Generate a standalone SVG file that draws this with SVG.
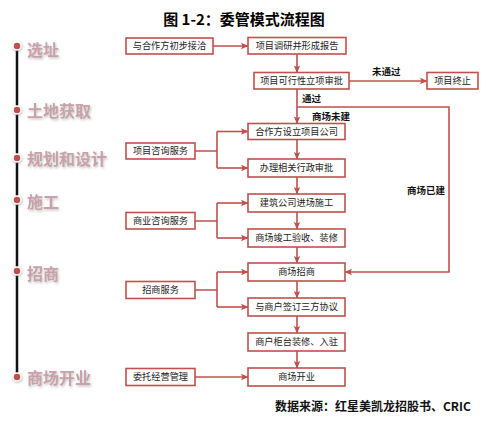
<svg xmlns="http://www.w3.org/2000/svg" width="492" height="425" viewBox="0 0 492 425">
<style>
.box{fill:#fff;stroke:#c0504d;stroke-width:1.6}
.bt{font-family:"Noto Sans CJK SC","Liberation Sans",sans-serif;font-size:9.2px;fill:#222;text-anchor:middle}
.lbl{font-family:"Noto Sans CJK SC","Liberation Sans",sans-serif;font-size:9.5px;font-weight:bold;fill:#111}
.tl{font-family:"Noto Sans CJK SC","Liberation Sans",sans-serif;font-size:16px;font-weight:bold;fill:#c9a2a8;filter:url(#sh)}
.ln{fill:none;stroke:#c0504d;stroke-width:1.6}
.ar{marker-end:url(#ah)}
</style>
<defs>
<marker id="ah" markerUnits="userSpaceOnUse" markerWidth="8" markerHeight="8" refX="7" refY="4" orient="auto">
<path d="M0,0.8 L7.5,4 L0,7.2 L1.5,4 z" fill="#c0504d"/>
</marker>
<filter id="sh" x="-10%" y="-20%" width="130%" height="150%">
<feDropShadow dx="1" dy="1.5" stdDeviation="0.8" flood-color="#888" flood-opacity="0.5"/>
</filter>
<filter id="dsh" x="-100%" y="-100%" width="300%" height="300%">
<feDropShadow dx="0.5" dy="1" stdDeviation="1" flood-color="#666" flood-opacity="0.5"/>
</filter>
</defs>
<rect width="492" height="425" fill="#fff"/>
<text x="244" y="25" font-family="'Noto Sans CJK SC','Liberation Sans',sans-serif" font-size="15" font-weight="bold" text-anchor="middle" fill="#000">图 1-2：委管模式流程图</text>

<g id="timeline">
<line x1="17" y1="46" x2="17" y2="377" stroke="#111" stroke-width="2.5"/>
<g fill="#c0504d" stroke="#fff" stroke-width="1.5" filter="url(#dsh)">
<circle cx="17" cy="46" r="4"/>
<circle cx="17" cy="110" r="4"/>
<circle cx="17" cy="158" r="4"/>
<circle cx="17" cy="200" r="4"/>
<circle cx="17" cy="271" r="4"/>
<circle cx="17" cy="377" r="4"/>
</g>
<text class="tl" x="27" y="55.5">选址</text>
<text class="tl" x="27" y="116.5">土地获取</text>
<text class="tl" x="27" y="164.5">规划和设计</text>
<text class="tl" x="27" y="208">施工</text>
<text class="tl" x="27" y="279.5">招商</text>
<text class="tl" x="27" y="383.5">商场开业</text>
</g>

<g id="connectors">
<path class="ln ar" d="M213,46 H248"/>
<path class="ln ar" d="M297,54 V72.5"/>
<path class="ln ar" d="M349,81 H427"/>
<path class="ln ar" d="M297,89 V123.5"/>
<path class="ln ar" d="M297,107 H449 V272 H345"/>
<path class="ln" d="M195,151 H217 M217,131.5 V168"/>
<path class="ln ar" d="M217,131.5 H248"/>
<path class="ln ar" d="M217,168 H248"/>
<path class="ln ar" d="M297,139.5 V159"/>
<path class="ln ar" d="M297,177 V194"/>
<path class="ln" d="M195,221 H217 M217,203 V238"/>
<path class="ln ar" d="M217,203 H248"/>
<path class="ln ar" d="M217,238 H248"/>
<path class="ln ar" d="M297,212 V229"/>
<path class="ln ar" d="M297,247 V263"/>
<path class="ln ar" d="M297,281 V298"/>
<path class="ln" d="M195,290 H217 M217,272 V307"/>
<path class="ln ar" d="M217,272 H248"/>
<path class="ln ar" d="M217,307 H248"/>
<path class="ln ar" d="M297,316 V333"/>
<path class="ln ar" d="M297,351 V368"/>
<path class="ln ar" d="M195,377 H248"/>
<text class="lbl" x="372" y="75">未通过</text>
<text class="lbl" x="302" y="102">通过</text>
<text class="lbl" x="312" y="119.5">商场未建</text>
<text class="lbl" x="407" y="193.5">商场已建</text>
</g>

<g id="n-jieqia"><rect class="box" x="126" y="38" width="87" height="16"/><text class="bt" x="169.5" y="49.3">与合作方初步接洽</text></g>
<g id="n-diaoyan"><rect class="box" x="248" y="37.5" width="98" height="16.5"/><text class="bt" x="297" y="49">项目调研并形成报告</text></g>
<g id="n-kexing"><rect class="box" x="254" y="72.5" width="95" height="16.5"/><text class="bt" x="301.5" y="84">项目可行性立项审批</text></g>
<g id="n-zhongzhi"><rect class="box" x="427" y="72.5" width="51" height="16.5"/><text class="bt" x="452.5" y="84">项目终止</text></g>
<g id="n-zixun1"><rect class="box" x="126" y="143" width="69" height="16"/><text class="bt" x="160.5" y="154.3">项目咨询服务</text></g>
<g id="n-gongsi"><rect class="box" x="248" y="123.5" width="97" height="16"/><text class="bt" x="296.5" y="134.8">合作方设立项目公司</text></g>
<g id="n-shenpi"><rect class="box" x="248" y="159" width="97" height="18"/><text class="bt" x="296.5" y="171.3">办理相关行政审批</text></g>
<g id="n-zixun2"><rect class="box" x="126" y="212.5" width="69" height="16.5"/><text class="bt" x="160.5" y="224">商业咨询服务</text></g>
<g id="n-shigong"><rect class="box" x="248" y="194" width="97" height="18"/><text class="bt" x="296.5" y="206.3">建筑公司进场施工</text></g>
<g id="n-jungong"><rect class="box" x="248" y="229" width="97" height="18"/><text class="bt" x="296.5" y="241.3">商场竣工验收、装修</text></g>
<g id="n-zsfw"><rect class="box" x="126" y="281.5" width="69" height="17"/><text class="bt" x="160.5" y="293.3">招商服务</text></g>
<g id="n-zhaoshang"><rect class="box" x="248" y="263" width="97" height="18"/><text class="bt" x="296.5" y="275.3">商场招商</text></g>
<g id="n-xieyi"><rect class="box" x="248" y="298" width="97" height="18"/><text class="bt" x="296.5" y="310.3">与商户签订三方协议</text></g>
<g id="n-ruzhu"><rect class="box" x="248" y="333" width="97" height="18"/><text class="bt" x="296.5" y="345.3">商户柜台装修、入驻</text></g>
<g id="n-weituo"><rect class="box" x="126" y="368.5" width="69" height="17"/><text class="bt" x="160.5" y="380.3">委托经营管理</text></g>
<g id="n-kaiye"><rect class="box" x="248" y="368" width="97" height="18"/><text class="bt" x="296.5" y="380.3">商场开业</text></g>

<text x="275" y="410.5" font-family="'Noto Sans CJK SC','Liberation Sans',sans-serif" font-size="12" font-weight="bold" fill="#111">数据来源：红星美凯龙招股书、CRIC</text>
</svg>
